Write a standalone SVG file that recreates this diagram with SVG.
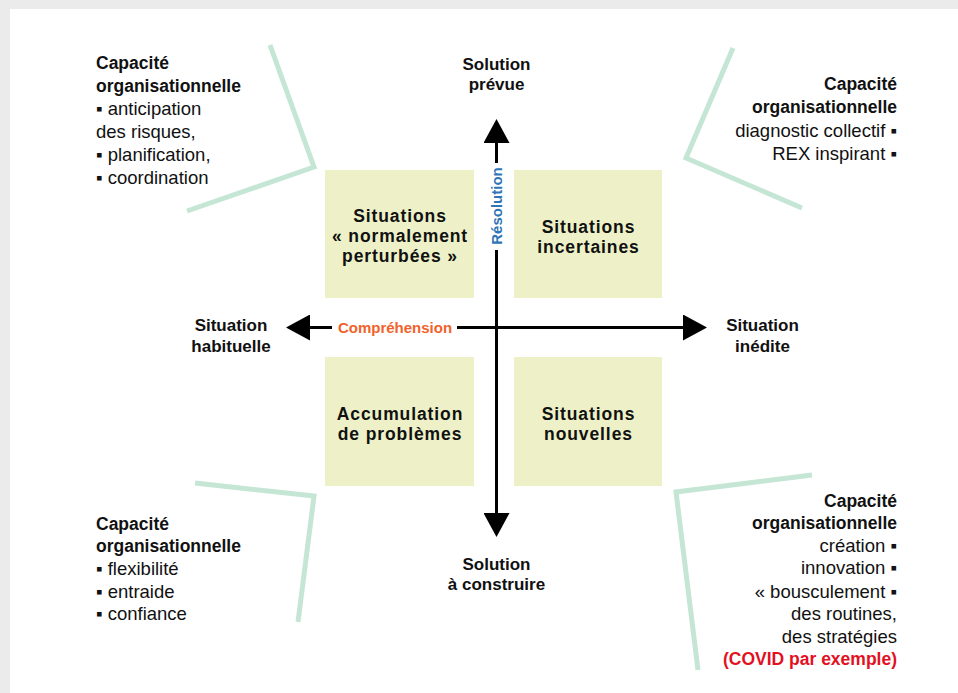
<svg xmlns="http://www.w3.org/2000/svg" width="958" height="693" viewBox="0 0 958 693">
<style>
text{font-family:"Liberation Sans",Arial,sans-serif;fill:#111}
.b{font-weight:bold;font-size:17.5px}
.c{font-size:18.5px}
.ax{font-size:17px;font-weight:bold;text-anchor:middle}
.bx{font-size:17.5px;font-weight:bold;text-anchor:middle;letter-spacing:0.9px}
.box{fill:#eef1c8}
.br{fill:none;stroke:#c5e6d4;stroke-width:5}
.axis{stroke:#000;stroke-width:3;fill:none}
.end{text-anchor:end}
</style>
<defs>
<marker id="ah" viewBox="0 0 24 26" refX="0" refY="13" markerWidth="24" markerHeight="26" markerUnits="userSpaceOnUse" orient="auto">
<path d="M0,0 L24,13 L0,26 Z" fill="#000"/>
</marker>
</defs>
<rect x="0" y="0" width="958" height="693" fill="#ebebeb"/>
<rect x="10" y="9" width="948" height="684" fill="#fff"/>

<g id="connectors">
<line class="axis" x1="496.5" y1="163" x2="496.5" y2="143" marker-end="url(#ah)"/>
<line class="axis" x1="496.5" y1="250" x2="496.5" y2="513" marker-end="url(#ah)"/>
<line class="axis" x1="332" y1="327.5" x2="310" y2="327.5" marker-end="url(#ah)"/>
<line class="axis" x1="457" y1="327.5" x2="683" y2="327.5" marker-end="url(#ah)"/>
<text x="395" y="333" style="font-size:15px;font-weight:bold;text-anchor:middle;fill:#f0622a">Compréhension</text>
<text transform="translate(502,206) rotate(-90)" style="font-size:15px;font-weight:bold;text-anchor:middle;fill:#2e75b6">Résolution</text>
</g>

<g id="q-normal">
<rect class="box" x="325" y="170" width="149" height="128"/>
<text class="bx" x="400" y="222">Situations</text>
<text class="bx" x="400" y="242">« normalement</text>
<text class="bx" x="400" y="262">perturbées »</text>
</g>
<g id="q-incertaines">
<rect class="box" x="514" y="170" width="148" height="128"/>
<text class="bx" x="588.5" y="233">Situations</text>
<text class="bx" x="588.5" y="253">incertaines</text>
</g>
<g id="q-accumulation">
<rect class="box" x="325" y="357" width="149" height="129"/>
<text class="bx" x="400" y="420">Accumulation</text>
<text class="bx" x="400" y="440">de problèmes</text>
</g>
<g id="q-nouvelles">
<rect class="box" x="514" y="357" width="148" height="129"/>
<text class="bx" x="588.5" y="420">Situations</text>
<text class="bx" x="588.5" y="440">nouvelles</text>
</g>

<g id="solution-prevue">
<text class="ax" x="496.5" y="70">Solution</text>
<text class="ax" x="496.5" y="90">prévue</text>
</g>
<g id="solution-construire">
<text class="ax" x="496.5" y="570">Solution</text>
<text class="ax" x="496.5" y="590">à construire</text>
</g>
<g id="situation-habituelle">
<text class="ax" x="231" y="331">Situation</text>
<text class="ax" x="231" y="352">habituelle</text>
</g>
<g id="situation-inedite">
<text class="ax" x="762.5" y="331">Situation</text>
<text class="ax" x="762.5" y="352">inédite</text>
</g>

<g id="capacite-tl">
<polyline class="br" points="270,45 314,167 187,211"/>
<text class="b" x="96" y="69">Capacité</text>
<text class="b" x="96" y="92">organisationnelle</text>
<text class="c" x="96" y="115">▪ anticipation</text>
<text class="c" x="96" y="138">des risques,</text>
<text class="c" x="96" y="161">▪ planification,</text>
<text class="c" x="96" y="183.5">▪ coordination</text>
</g>
<g id="capacite-tr">
<polyline class="br" points="733,48 686,158 802,208"/>
<text class="b end" x="897" y="90">Capacité</text>
<text class="b end" x="897" y="113">organisationnelle</text>
<text class="c end" x="897" y="137">diagnostic collectif ▪</text>
<text class="c end" x="897" y="160">REX inspirant ▪</text>
</g>
<g id="capacite-bl">
<polyline class="br" points="195,483 314,496 298,622"/>
<text class="b" x="96" y="530">Capacité</text>
<text class="b" x="96" y="552">organisationnelle</text>
<text class="c" x="96" y="575">▪ flexibilité</text>
<text class="c" x="96" y="598">▪ entraide</text>
<text class="c" x="96" y="620">▪ confiance</text>
</g>
<g id="capacite-br">
<polyline class="br" points="812,475 676,492 698,670"/>
<text class="b end" x="897" y="507">Capacité</text>
<text class="b end" x="897" y="529">organisationnelle</text>
<text class="c end" x="897" y="552">création ▪</text>
<text class="c end" x="897" y="574">innovation ▪</text>
<text class="c end" x="897" y="598">« bousculement ▪</text>
<text class="c end" x="897" y="620">des routines,</text>
<text class="c end" x="897" y="643">des stratégies</text>
<text class="b end" x="897" y="665" style="fill:#e3101f">(COVID par exemple)</text>
</g>
</svg>
